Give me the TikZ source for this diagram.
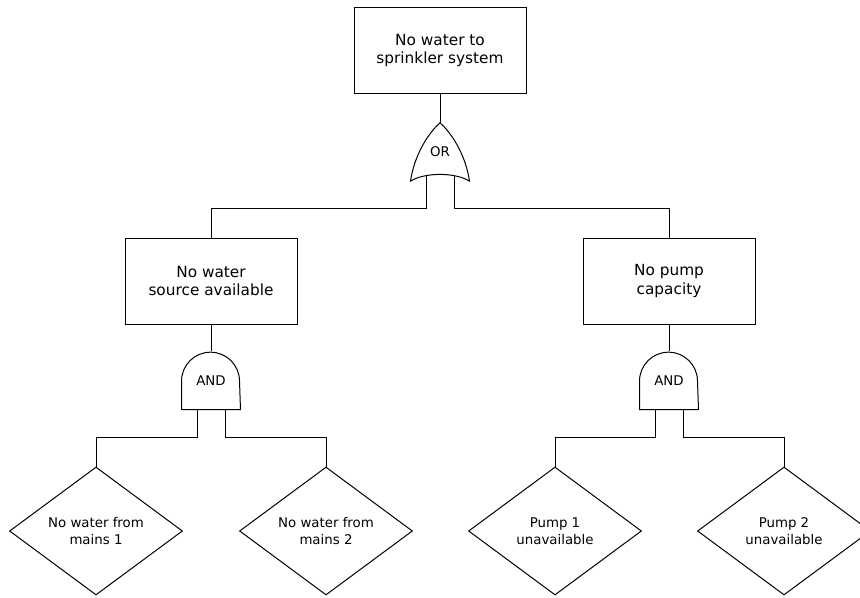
\documentclass[tikz,border=0pt]{standalone}
\usepackage{fontspec}
\setmainfont{DejaVu Sans}
\usetikzlibrary{shapes.geometric}
\begin{document}
\begin{tikzpicture}[x=0.75pt, y=-0.75pt, line width=0.75pt,
  event/.style={draw, minimum width=129pt, minimum height=64.5pt, align=center, font=\fontsize{11.5}{14}\selectfont},
  basic/.style={draw, diamond, shape aspect=1.35, minimum width=129.75pt, minimum height=96pt, inner sep=0pt, align=center, font=\fontsize{10}{13}\selectfont},
  gate/.style={minimum width=43.5pt, minimum height=43pt, inner sep=0pt, font=\fontsize{10}{12}\selectfont}]
  \useasboundingbox (0,0) rectangle (860,597);
  % events
  \node[event] (top) at (440,50.5) {No water to\\sprinkler system};
  \node[event] (water) at (211,281) {No water\\source available};
  \node[event] (pump) at (669,281) {No pump\\capacity};
  % gates
  \node[gate] (or) at (440,152) {OR};
  \node[gate] (andW) at (211,380.5) {AND};
  \node[gate] (andP) at (669,380.5) {AND};
  \draw (or.south west) .. controls +(5,-33) and +(-6,5) .. (or.north)
    .. controls +(6,5) and +(-5,-33) .. (or.south east)
    .. controls +(-14,-9) and +(14,-9) .. cycle;
  \foreach \g in {andW, andP}
    \draw (\g.south west) -- ++(0,-28.5) arc[start angle=180, end angle=0, radius=21.75pt] -- (\g.south east) -- cycle;
  % basic events
  \node[basic] (mains1) at (96,531) {No water from\\mains 1};
  \node[basic] (mains2) at (326,531) {No water from\\mains 2};
  \node[basic] (pump1) at (555,531) {Pump 1\\unavailable};
  \node[basic] (pump2) at (784,531) {Pump 2\\unavailable};
  % connectors
  \draw (top) -- (or);
  \draw (or.south) ++(-14,-5) -- ++(0,32) -| (water);
  \draw (or.south) ++(14,-5) -- ++(0,32) -| (pump);
  \draw (water) -- (andW);
  \draw (pump) -- (andP);
  \draw (andW.south) ++(-14,0) -- ++(0,28) -| (mains1);
  \draw (andW.south) ++(14,0) -- ++(0,28) -| (mains2);
  \draw (andP.south) ++(-14,0) -- ++(0,28) -| (pump1);
  \draw (andP.south) ++(14,0) -- ++(0,28) -| (pump2);
\end{tikzpicture}
\end{document}
